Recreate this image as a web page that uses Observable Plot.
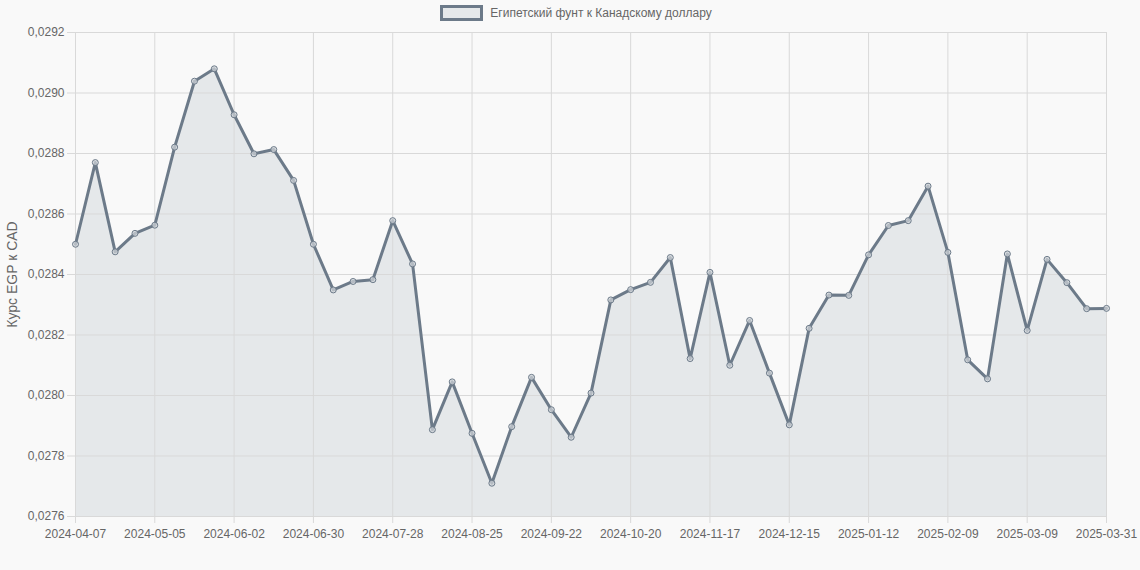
<!DOCTYPE html>
<html>
<head>
<meta charset="utf-8">
<script src="https://cdn.jsdelivr.net/npm/d3@7"></script>
<script src="https://cdn.jsdelivr.net/npm/@observablehq/plot@0.6"></script>
<style>
  html, body { margin: 0; padding: 0; background: #f9f9f9; }
  body { width: 1140px; height: 570px; overflow: hidden; font-family: "Liberation Sans", Arial, sans-serif; }
  #legend { height: 26px; display: flex; align-items: center; justify-content: center; padding-left: 12px; box-sizing: border-box; color: #666; font-size: 12px; }
  #legend .box { width: 37px; height: 10px; border: 3px solid #6c7a89; background: #e5e8ea; margin-right: 7px; }
  #chart svg { display: block; }
</style>
</head>
<body>
<div id="legend"><span class="box"></span><span>Египетский фунт к Канадскому доллару</span></div>
<div id="chart"></div>
<script>
const dates = [
  "2024-04-07","2024-04-14","2024-04-21","2024-04-28","2024-05-05","2024-05-12","2024-05-19","2024-05-26",
  "2024-06-02","2024-06-09","2024-06-16","2024-06-23","2024-06-30","2024-07-07","2024-07-14","2024-07-21",
  "2024-07-28","2024-08-04","2024-08-11","2024-08-18","2024-08-25","2024-09-01","2024-09-08","2024-09-15",
  "2024-09-22","2024-09-29","2024-10-06","2024-10-13","2024-10-20","2024-10-27","2024-11-03","2024-11-10",
  "2024-11-17","2024-11-24","2024-12-01","2024-12-08","2024-12-15","2024-12-22","2024-12-29","2025-01-05",
  "2025-01-12","2025-01-19","2025-01-26","2025-02-02","2025-02-09","2025-02-16","2025-02-23","2025-03-02",
  "2025-03-09","2025-03-16","2025-03-23","2025-03-30","2025-03-31"
];
const rates = [
  0.02850, 0.02877, 0.028475, 0.028536, 0.028563, 0.028821, 0.029039, 0.02908,
  0.028928, 0.028799, 0.028813, 0.028711, 0.02850, 0.028349, 0.028377, 0.028383,
  0.028578, 0.028435, 0.027887, 0.028045, 0.027875, 0.02771, 0.027897, 0.02806,
  0.027953, 0.027862, 0.028008, 0.028316, 0.02835, 0.028374, 0.028456, 0.028122,
  0.028407, 0.0281, 0.028248, 0.028074, 0.027903, 0.028222, 0.028332, 0.028331,
  0.028465, 0.028562, 0.028578, 0.028692, 0.028473, 0.028118, 0.028055, 0.028468,
  0.028215, 0.02845, 0.028373, 0.028287, 0.028288
];
const xTicks = ["2024-04-07","2024-05-05","2024-06-02","2024-06-30","2024-07-28","2024-08-25","2024-09-22",
  "2024-10-20","2024-11-17","2024-12-15","2025-01-12","2025-02-09","2025-03-09","2025-03-31"];
const yTicks = [0.0276, 0.0278, 0.0280, 0.0282, 0.0284, 0.0286, 0.0288, 0.0290, 0.0292];
const yLabel = "Курс EGP к CAD";

const data = dates.map((d, i) => ({date: d, rate: rates[i]}));
const fmt = v => v.toFixed(4).replace(".", ",");
const lineColor = "#6c7a89";
const gridColor = "#d9d9d9";
const firstDate = dates[0];
const lastDate = dates[dates.length - 1];

const chart = Plot.plot({
  width: 1140,
  height: 544,
  marginLeft: 75,
  marginRight: 34,
  marginTop: 6,
  marginBottom: 54,
  style: {background: "transparent", fontFamily: "'Liberation Sans', Arial, sans-serif", fontSize: "12px", color: "#666"},
  x: {type: "point", domain: dates, padding: 0},
  y: {domain: [0.0276, 0.0292]},
  marks: [
    Plot.areaY(data, {x: "date", y1: 0.0276, y2: "rate", fill: "#e5e8ea", fillOpacity: 1}),
    Plot.ruleY(yTicks, {y: d => d, x1: () => firstDate, x2: () => lastDate, stroke: gridColor, strokeWidth: 1, insetLeft: -8}),
    Plot.ruleX(xTicks, {x: d => d, y1: () => 0.0292, y2: () => 0.0276, stroke: gridColor, strokeWidth: 1, insetBottom: -7}),
    Plot.axisY({ticks: yTicks, tickFormat: fmt, tickSize: 0, tickPadding: 11, label: null, fill: "#666", fontSize: 12}),
    Plot.axisX({ticks: xTicks, tickSize: 0, tickPadding: 13, label: null, fill: "#666", fontSize: 12}),
    Plot.lineY(data, {x: "date", y: "rate", stroke: lineColor, strokeWidth: 3, strokeLinejoin: "round"}),
    Plot.dot(data, {x: "date", y: "rate", r: 3, stroke: lineColor, strokeWidth: 1, fill: "#d3d7db", fillOpacity: 0.7}),
    Plot.text([yLabel], {frameAnchor: "left", dx: -63, rotate: -90, fill: "#666", fontSize: 14, textAnchor: "middle"})
  ]
});
document.getElementById("chart").appendChild(chart);
</script>
</body>
</html>
